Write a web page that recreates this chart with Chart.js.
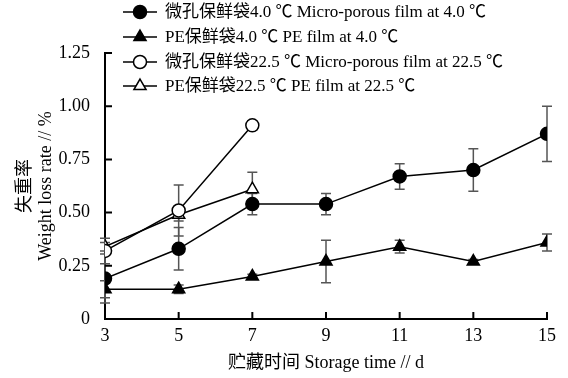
<!DOCTYPE html>
<html>
<head>
<meta charset="utf-8">
<script src="https://cdn.jsdelivr.net/npm/chart.js@4.4.1/dist/chart.umd.min.js"></script>
<style>
  html, body { margin:0; padding:0; background:#fff; }
  #wrap { width:568px; height:378px; position:relative; }
</style>
</head>
<body>
<div id="wrap"><canvas id="c" width="568" height="378"></canvas></div>
<script>
// storage days and weight loss rate (%)
const days = [3, 5, 7, 9, 11, 13, 15];
const microCold = [0.19, 0.33, 0.54, 0.54, 0.67, 0.70, 0.87];
const microColdErr = [0.115, 0.10, 0.05, 0.05, 0.06, 0.10, 0.13];
const peCold = [0.14, 0.14, 0.20, 0.27, 0.34, 0.27, 0.36];
const peColdErr = [0.04, 0.02, 0.01, 0.10, 0.03, 0.01, 0.04];
const microWarm = [0.32, 0.51, 0.91];
const microWarmErr = [0.06, 0.12, 0.02];
const peWarm = [0.34, 0.49, 0.61];
const peWarmErr = [0.02, 0.03, 0.08];

const labels = [
  '微孔保鲜袋4.0 ℃ Micro-porous film at 4.0 ℃',
  'PE保鲜袋4.0 ℃ PE film at 4.0 ℃',
  '微孔保鲜袋22.5 ℃ Micro-porous film at 22.5 ℃',
  'PE保鲜袋22.5 ℃ PE film at 22.5 ℃'
];
const yTicks = [0, 0.25, 0.5, 0.75, 1.0, 1.25];

const FONT = '"Liberation Serif", "Noto Sans CJK SC", serif';
const pts = (vals) => vals.map((v, i) => ({ x: days[i], y: v }));

function ds(label, vals, errs, style, filled){
  return {
    label,
    data: pts(vals),
    errs,
    borderColor: '#000',
    borderWidth: 1.5,
    pointStyle: style,
    pointRadius: style === 'triangle' ? 7 : 6.5,
    pointBorderWidth: 1.5,
    pointBorderColor: '#000',
    pointBackgroundColor: filled ? '#000' : '#fff',
    tension: 0
  };
}

/* ---------- error bars ---------- */
const errorBars = {
  id: 'errorBars',
  beforeDatasetsDraw(chart){
    const { ctx, scales: { x, y } } = chart;
    ctx.save();
    ctx.strokeStyle = '#555';
    ctx.lineWidth = 1.5;
    chart.data.datasets.forEach(d => {
      d.data.forEach((p, i) => {
        const e = d.errs[i];
        if (!e) return;
        const px = x.getPixelForValue(p.x);
        const top = y.getPixelForValue(p.y + e);
        const bot = y.getPixelForValue(p.y - e);
        ctx.beginPath();
        ctx.moveTo(px, top); ctx.lineTo(px, bot);
        ctx.moveTo(px - 5, top); ctx.lineTo(px + 5, top);
        ctx.moveTo(px - 5, bot); ctx.lineTo(px + 5, bot);
        ctx.stroke();
      });
    });
    ctx.restore();
  }
};

/* ---------- inward ticks + legend ---------- */
const decor = {
  id: 'decor',
  afterDraw(chart){
    const { ctx, scales: { x, y } } = chart;
    ctx.save();
    ctx.strokeStyle = '#000';
    ctx.lineWidth = 2;
    ctx.beginPath();
    yTicks.forEach(v => {
      if (v === 0) return;
      const py = y.getPixelForValue(v);
      ctx.moveTo(x.left, py); ctx.lineTo(x.left + 7, py);
    });
    days.forEach(v => {
      const px = x.getPixelForValue(v);
      ctx.moveTo(px, y.bottom); ctx.lineTo(px, y.bottom - 7);
    });
    ctx.stroke();

    // legend
    const rowY = [12, 37, 62, 86];
    chart.data.datasets.forEach((d, i) => {
      const yy = rowY[i];
      ctx.strokeStyle = '#000';
      ctx.lineWidth = 1.5;
      ctx.beginPath();
      ctx.moveTo(123, yy); ctx.lineTo(157, yy);
      ctx.stroke();
      ctx.fillStyle = d.pointBackgroundColor;
      ctx.strokeStyle = '#000';
      ctx.lineWidth = 1.5;
      Chart.helpers.drawPoint(ctx, { pointStyle: d.pointStyle, radius: d.pointRadius, borderWidth: 1.5 }, 140, yy);
      ctx.fillStyle = '#000';
      ctx.font = '17px ' + FONT;
      ctx.textBaseline = 'middle';
      ctx.fillText(d.label, 165, yy + 1);
    });
    ctx.restore();
  }
};

new Chart(document.getElementById('c'), {
  type: 'line',
  data: {
    datasets: [
      ds(labels[0], microCold, microColdErr, 'circle', true),
      ds(labels[1], peCold, peColdErr, 'triangle', true),
      ds(labels[2], microWarm, microWarmErr, 'circle', false),
      ds(labels[3], peWarm, peWarmErr, 'triangle', false)
    ]
  },
  options: {
    responsive: false,
    animation: false,
    layout: { padding: { top: 53, right: 21, left: 0, bottom: 0 } },
    plugins: { legend: { display: false }, tooltip: { enabled: false } },
    scales: {
      x: {
        type: 'linear', min: 3, max: 15,
        afterFit(s){ s.height = 59; },
        afterBuildTicks(s){ s.ticks = days.map(v => ({ value: v })); },
        grid: { display: false, drawTicks: false },
        border: { display: true, color: '#000', width: 2 },
        ticks: { color: '#000', padding: 6, font: { family: FONT, size: 18 } },
        title: {
          display: true, text: '贮藏时间 Storage time // d', color: '#000',
          padding: { top: 0, bottom: 4 }, font: { family: FONT, size: 18 }
        }
      },
      y: {
        min: 0, max: 1.25,
        afterFit(s){ s.width = 105; },
        afterBuildTicks(s){ s.ticks = yTicks.map(v => ({ value: v })); },
        grid: { display: false, drawTicks: false },
        border: { display: true, color: '#000', width: 2 },
        ticks: {
          color: '#000', padding: 15, font: { family: FONT, size: 18 },
          callback: v => v === 0 ? '0' : v.toFixed(2)
        },
        title: {
          display: true, text: ['失重率', 'Weight loss rate // %'], color: '#000',
          padding: { top: 14, bottom: 0 }, font: { family: FONT, size: 18, lineHeight: 1.2 }
        }
      }
    }
  },
  plugins: [errorBars, decor]
});
</script>
</body>
</html>
